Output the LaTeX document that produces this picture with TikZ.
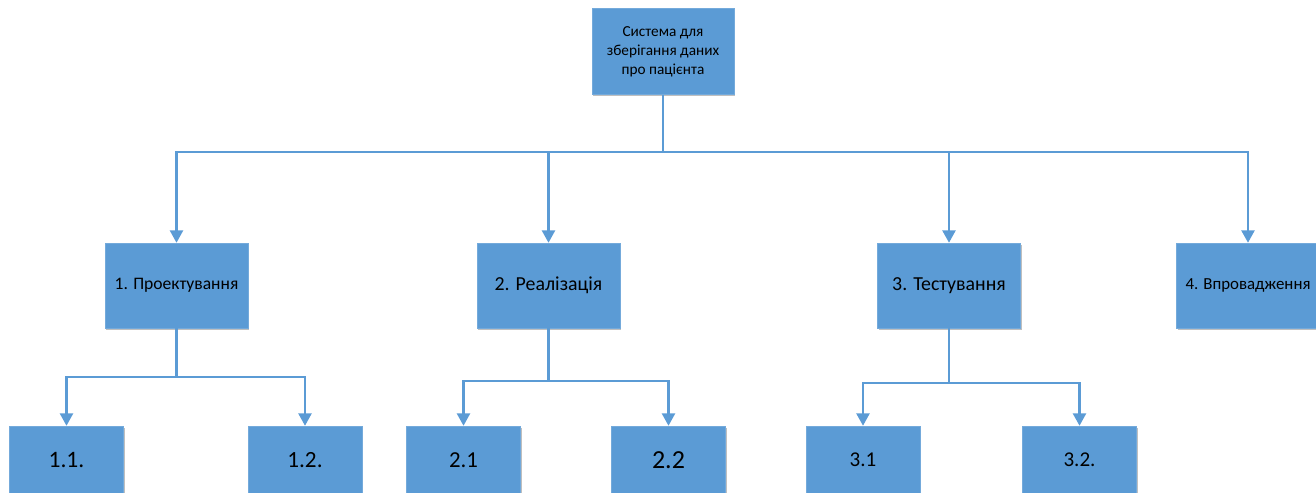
\documentclass[tikz,border=0pt]{standalone}
\usepackage{fontspec}
\setmainfont{Carlito}
\usepackage{tikz}
\usetikzlibrary{arrows.meta,shadows}
\definecolor{boxblue}{RGB}{91,155,213}
\tikzset{
  b/.style={rectangle,fill=boxblue,draw=boxblue!85!white,line width=0.3pt,minimum width=2.86cm,minimum height=1.70cm,align=center,inner sep=1pt,
    drop shadow={shadow xshift=0.7pt,shadow yshift=-0.9pt,opacity=0.25,fill=black}},
  sb/.style={b,minimum width=2.28cm,minimum height=1.36cm},
  arr/.style={-{Triangle[width=7.4pt,length=7pt]},draw=boxblue,line width=1.2pt},
  ln/.style={draw=boxblue,line width=1.2pt},
}

\begin{document}
\begin{tikzpicture}[x=0.02cm,y=-0.02cm]
  \useasboundingbox (0,0) rectangle (1316,493);
  % root
  \node[b,minimum width=2.84cm,minimum height=1.72cm,font=\fontsize{8.7}{10.8}\selectfont] (root) at (663,51.5) {Система для\\зберігання даних\\про пацієнта};
  % first level
  \node[b,font=\fontsize{10}{12}\selectfont] (p1) at (176.5,285.5) {1. Проектування};
  \node[b,font=\fontsize{11.3}{13}\selectfont] (p2) at (548.5,285.5) {2. Реалізація};
  \node[b,font=\fontsize{11.3}{13}\selectfont] (p3) at (949,285.5) {3. Тестування};
  \node[b,font=\fontsize{9.6}{12}\selectfont] (p4) at (1248,285.5) {4. Впровадження};
  % second level
  \node[sb,font=\fontsize{13.4}{15}\selectfont] (p11) at (66.5,460) {1.1.};
  \node[sb,font=\fontsize{13.2}{15}\selectfont] (p12) at (305,460) {1.2.};
  \node[sb,font=\fontsize{13}{15}\selectfont] (p21) at (463.5,460) {2.1};
  \node[sb,font=\fontsize{14.8}{17}\selectfont] (p22) at (668.5,460) {2.2};
  \node[sb,font=\fontsize{12}{14}\selectfont] (p31) at (863,460) {3.1};
  \node[sb,font=\fontsize{12}{14}\selectfont] (p32) at (1079.5,460) {3.2.};
  % junctions
  \coordinate (j0) at (663,152);
  \coordinate (j1) at (176.5,377);
  \coordinate (j2) at (548.5,381);
  \coordinate (j3) at (949,383);
  \draw[ln] (root.south) -- (j0);
  \foreach \n in {p1,p2,p3,p4}
    \draw[arr] (j0) -| (\n.north);
  \draw[ln] (p1.south) -- (j1);
  \draw[arr] (j1) -| (p11.north);
  \draw[arr] (j1) -| (p12.north);
  \draw[ln] (p2.south) -- (j2);
  \draw[arr] (j2) -| (p21.north);
  \draw[arr] (j2) -| (p22.north);
  \draw[ln] (p3.south) -- (j3);
  \draw[arr] (j3) -| (p31.north);
  \draw[arr] (j3) -| (p32.north);
\end{tikzpicture}
\end{document}
